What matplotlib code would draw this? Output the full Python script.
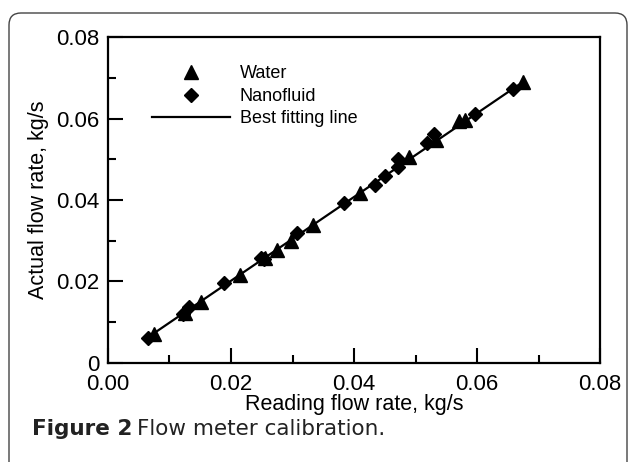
import matplotlib
matplotlib.use("Agg")
import matplotlib.pyplot as plt
from matplotlib.patches import FancyBboxPatch
from matplotlib.ticker import MultipleLocator, FormatStrFormatter

plt.rcParams['font.family'] = ['Liberation Sans', 'DejaVu Sans']

# water runs (triangles)
water_x = [0.0075, 0.0125, 0.0152, 0.0214, 0.0255, 0.0274, 0.0297, 0.0334,
           0.0410, 0.0490, 0.0534, 0.0570, 0.0580, 0.0674]
water_y = [0.0071, 0.0123, 0.0150, 0.0216, 0.0258, 0.0277, 0.0299, 0.0339,
           0.0418, 0.0506, 0.0548, 0.0595, 0.0597, 0.0690]

# nanofluid runs (diamonds)
nano_x = [0.0065, 0.0122, 0.0132, 0.0189, 0.0248, 0.0253, 0.0307, 0.0383,
          0.0434, 0.0450, 0.0472, 0.0472, 0.0518, 0.0530, 0.0597, 0.0659]
nano_y = [0.0062, 0.0120, 0.0137, 0.0197, 0.0257, 0.0254, 0.0320, 0.0392,
          0.0436, 0.0460, 0.0482, 0.0501, 0.0539, 0.0563, 0.0610, 0.0672]

# best fitting line end points
fit_x = [0.0065, 0.0674]
fit_y = [0.0063, 0.0689]

fig = plt.figure(figsize=(6.29, 4.62), dpi=100)

# rounded frame around the figure
frame = FancyBboxPatch((0.09, -0.3), 6.18, 4.79,
                       boxstyle="round,pad=0,rounding_size=0.12",
                       transform=fig.dpi_scale_trans, facecolor='none',
                       edgecolor='#444444', linewidth=1.0)
fig.patches.append(frame)

ax = fig.add_axes([0.1717, 0.2143, 0.7822, 0.7056])

ax.plot(fit_x, fit_y, color='black', lw=1.6, label='Best fitting line', zorder=2)
ax.plot(water_x, water_y, ls='none', marker='^', ms=10, color='black',
        label='Water', zorder=3)
ax.plot(nano_x, nano_y, ls='none', marker='D', ms=7.5, color='black',
        label='Nanofluid', zorder=3)

ax.set_xlim(0, 0.08)
ax.set_ylim(0, 0.08)
ax.xaxis.set_major_locator(MultipleLocator(0.02))
ax.xaxis.set_minor_locator(MultipleLocator(0.01))
ax.yaxis.set_major_locator(MultipleLocator(0.02))
ax.yaxis.set_minor_locator(MultipleLocator(0.01))
ax.xaxis.set_major_formatter(FormatStrFormatter('%.2f'))
ax.yaxis.set_major_formatter(lambda v, p: '0' if v == 0 else f'{v:.2f}')

ax.tick_params(which='both', direction='in', top=False, right=False,
               labelsize=16, width=1.5)
ax.tick_params(axis='y', pad=6)
ax.tick_params(axis='x', pad=8)
ax.tick_params(which='major', length=11)
ax.tick_params(which='minor', length=5.5)
for s in ax.spines.values():
    s.set_linewidth(1.6)

ax.set_xlabel('Reading flow rate, kg/s', fontsize=15.5, labelpad=-1)
ax.set_ylabel('Actual flow rate, kg/s', fontsize=15.5, labelpad=5)

h, l = ax.get_legend_handles_labels()
order = [1, 2, 0]
ax.legend([h[i] for i in order], [l[i] for i in order], frameon=False,
          fontsize=13, loc='upper left', bbox_to_anchor=(0.075, 0.935),
          handlelength=4.3, handletextpad=0.55, labelspacing=0.3,
          borderaxespad=0)

# caption
cap_font = ['DejaVu Sans']
fig.canvas.draw()
t1 = fig.text(0.051, 0.072, 'Figure 2', fontsize=15.5, fontweight='bold',
              color='#222222', family=cap_font, va='center')
fig.canvas.draw()
bb = t1.get_window_extent()
x2 = fig.transFigure.inverted().transform((bb.x1, 0))[0]
fig.text(x2 + 0.008, 0.072, 'Flow meter calibration.', fontsize=15.5,
         color='#222222', family=cap_font, va='center')

fig.savefig('out.png', dpi=100)
